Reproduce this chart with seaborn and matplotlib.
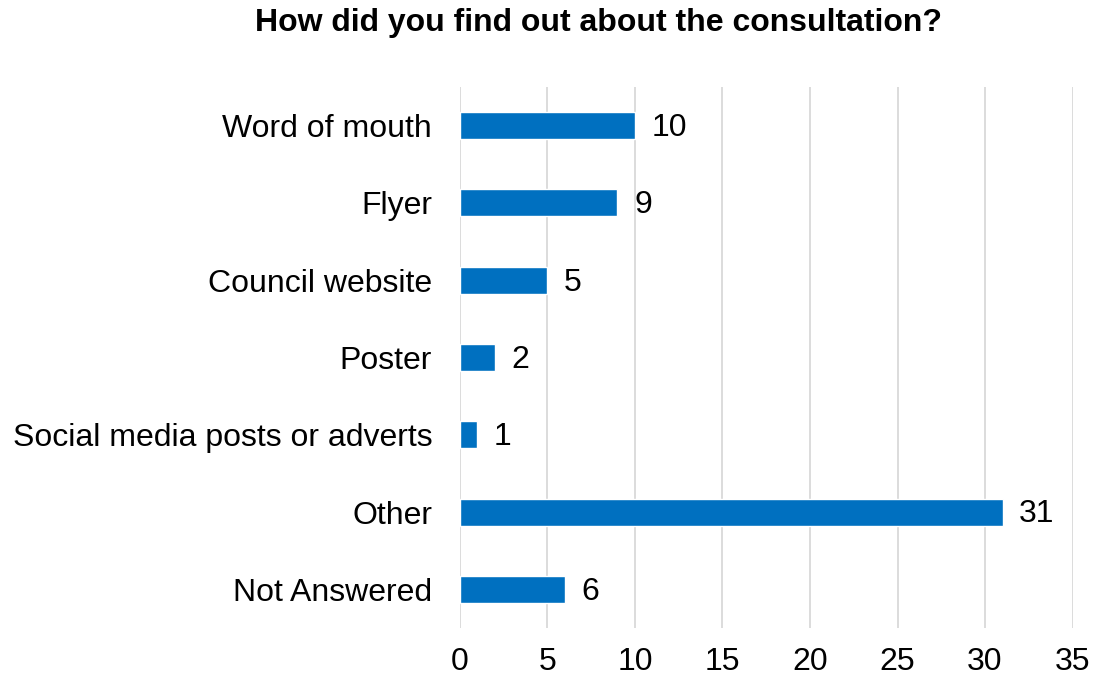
import matplotlib
matplotlib.use("Agg")
import matplotlib.pyplot as plt
import seaborn as sns
import pandas as pd

categories = ["Word of mouth", "Flyer", "Council website", "Poster",
              "Social media posts or adverts", "Other", "Not Answered"]
counts = [10, 9, 5, 2, 1, 31, 6]
x_ticks = [0, 5, 10, 15, 20, 25, 30, 35]
title = "How did you find out about the consultation?"

df = pd.DataFrame({"source": categories, "count": counts})

sns.set_theme(style="white")
plt.rcParams["font.family"] = ["Liberation Sans", "DejaVu Sans"]

fig = plt.figure(figsize=(10.97, 6.8), dpi=100)
ax = fig.add_axes([0.4193, 0.0765, 0.5584, 0.7955])

sns.barplot(data=df, x="count", y="source", orient="h", color="#0070C0",
            saturation=1, width=0.35, ax=ax)

ax.set_xlim(0, 35)
ax.set_ylim(6.5, -0.5)
ax.set_xticks(x_ticks)
ax.set_xlabel("")
ax.set_ylabel("")
ax.grid(axis="x", color="#D9D9D9", linewidth=1.3)
ax.set_axisbelow(True)
for s in ax.spines.values():
    s.set_visible(False)
ax.tick_params(axis="both", length=0, labelsize=23, colors="#000000")
ax.tick_params(axis="y", pad=20)
ax.tick_params(axis="x", pad=14)

for i, v in enumerate(counts):
    ax.text(v + 0.95, i + 0.03, str(v), va="center", ha="left", fontsize=23,
            color="#000000")

fig.text(0.5456, 0.966, title, ha="center", va="center", fontsize=23,
         fontweight="bold", color="#000000")

fig.savefig("out.png", dpi=100)
